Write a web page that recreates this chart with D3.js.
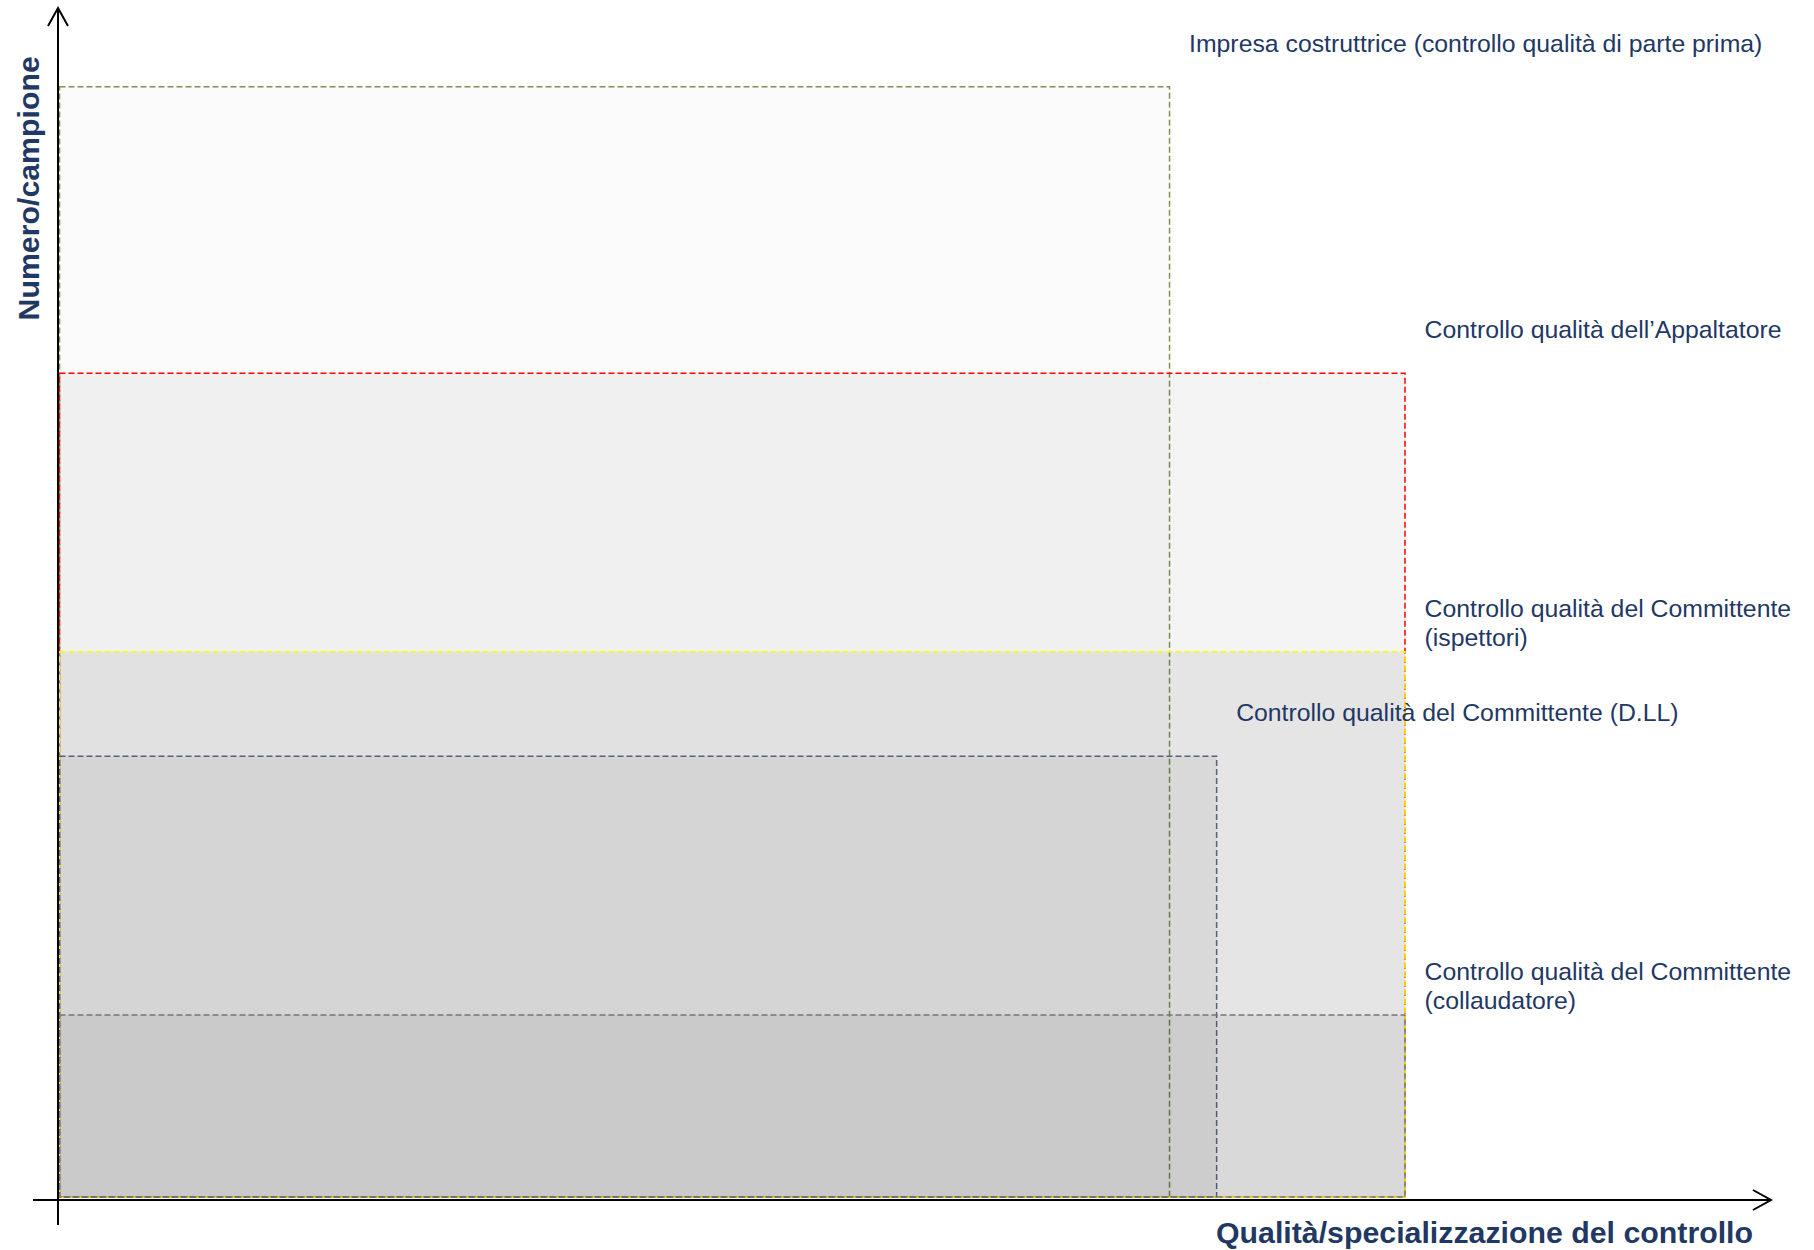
<!DOCTYPE html>
<html>
<head>
<meta charset="utf-8">
<script src="https://cdn.jsdelivr.net/npm/d3@7"></script>
<style>
body { margin: 0; background: #fff; }
text { font-family: "Liberation Sans", Arial, sans-serif; }
</style>
</head>
<body>
<svg id="chart" width="1814" height="1250"></svg>
<script>
// Livelli di controllo, dal più esteso al più specializzato
var levels = ['impresa', 'appaltatore', 'ispettori', 'dll', 'collaudatore'];
var labels = [
    ['Impresa costruttrice (controllo qualità di parte prima)'],
    ['Controllo qualità dell\u2019Appaltatore'],
    ['Controllo qualità del Committente', '(ispettori)'],
    ['Controllo qualità del Committente (D.LL)'],
    ['Controllo qualità del Committente', '(collaudatore)']
];
// qualità/specializzazione (asse x) e numero/campione (asse y), scala 0-100
var quality = [82.5, 100, 100, 86.0, 100];
var sampleSize = [100, 74.2, 49.1, 39.7, 16.4];

var xTitle = 'Qualità/specializzazione del controllo';
var yTitle = 'Numero/campione';

// stili
var strokeColors = ['#7a9250', '#ff0000', '#ffff00', '#56617a', '#767676'];
var fillOpacity = [0.017, 0.042, 0.06, 0.05, 0.05];
var navy = '#1f3864';

var svg = d3.select('#chart');

var x = d3.scaleLinear().domain([0, 100]).range([59.5, 1405]);
var y = d3.scaleLinear().domain([0, 100]).range([1197, 86.7]);

var data = levels.map(function (id, i) {
    return { id: id, label: labels[i], q: quality[i], n: sampleSize[i], i: i };
});

// Rettangoli
var boxes = svg.append('g').attr('class', 'boxes');
boxes.selectAll('rect')
    .data(data)
    .enter()
    .append('rect')
    .attr('x', x(0))
    .attr('y', function (d) { return y(d.n); })
    .attr('width', function (d) { return x(d.q) - x(0); })
    .attr('height', function (d) { return y(0) - y(d.n); })
    .attr('fill', '#000')
    .attr('fill-opacity', function (d) { return fillOpacity[d.i]; })
    .attr('stroke', function (d) { return strokeColors[d.i]; })
    .attr('stroke-width', 1.5)
    .attr('stroke-dasharray', '6,3');

// Assi con frecce
var axisG = svg.append('g').attr('class', 'axes');
var yAxisX = 58, xAxisY = 1200;
var line = d3.line();
axisG.append('path')
    .attr('d', line([[yAxisX, 1225], [yAxisX, 8]]))
    .attr('stroke', '#000').attr('stroke-width', 2).attr('fill', 'none');
axisG.append('path')
    .attr('d', line([[yAxisX - 10, 26], [yAxisX, 8], [yAxisX + 10, 26]]))
    .attr('stroke', '#000').attr('stroke-width', 2).attr('fill', 'none');
axisG.append('path')
    .attr('d', line([[33, xAxisY], [1771, xAxisY]]))
    .attr('stroke', '#000').attr('stroke-width', 2).attr('fill', 'none');
axisG.append('path')
    .attr('d', line([[1753, xAxisY - 10], [1771, xAxisY], [1753, xAxisY + 10]]))
    .attr('stroke', '#000').attr('stroke-width', 2).attr('fill', 'none');

// Etichette dei livelli
var lab = svg.append('g').attr('class', 'labels');
lab.selectAll('text')
    .data(data)
    .enter()
    .append('text')
    .attr('y', function (d) { return y(d.n) - 35; })
    .attr('fill', navy)
    .attr('font-size', '24.8px')
    .each(function (d) {
        var t = d3.select(this);
        d.label.forEach(function (s, k) {
            t.append('tspan')
                .attr('x', x(d.q) + 19.5)
                .attr('dy', k === 0 ? 0 : 29)
                .text(s);
        });
    });

// Titoli assi
svg.append('text')
    .attr('x', 1216)
    .attr('y', 1243)
    .attr('fill', navy)
    .attr('font-size', '30.3px')
    .attr('font-weight', 'bold')
    .text(xTitle);
svg.append('text')
    .attr('transform', 'translate(38.5,320.5) rotate(-90)')
    .attr('fill', navy)
    .attr('font-size', '30.3px')
    .attr('font-weight', 'bold')
    .text(yTitle);
</script>
</body>
</html>
